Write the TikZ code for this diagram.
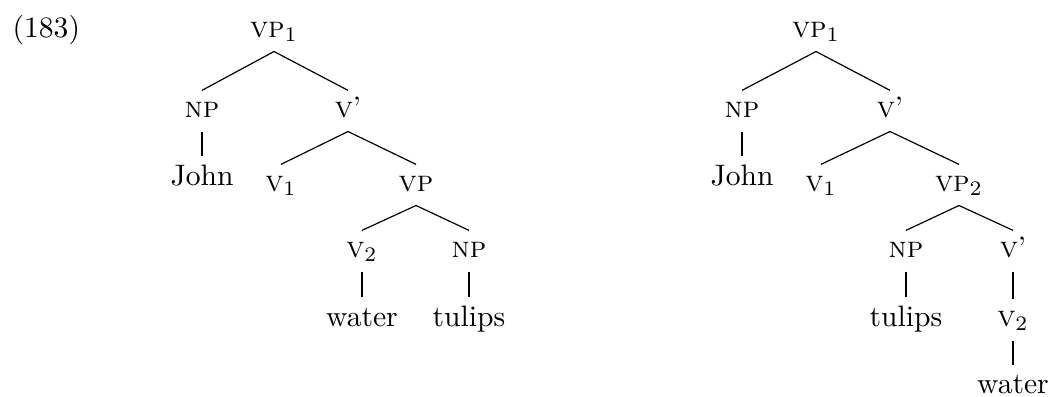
\documentclass[tikz,border=0pt]{standalone}
\tikzset{
  cat/.style={anchor=base, inner sep=0pt, text height=8.8pt, text depth=4.7pt},
  word/.style={anchor=base, inner sep=0pt, text height=9.5pt, text depth=0pt},
  branch/.style={line width=0.4pt},
}
\begin{document}
\begin{tikzpicture}[x=0.3378pt,y=-0.3378pt]
\useasboundingbox (0,0) rectangle (1051,396);
\node[anchor=base west, inner sep=0pt] (ex) at (12,37) {(183)};
% left tree
\node[cat] (a) at (274,37) {\textsc{vp}$_1$};
\node[cat] (anp) at (202,117) {\textsc{np}};
\node[word] (ajohn) at (202,185) {John};
\node[cat] (avb) at (348,117) {\textsc{v}'};
\node[cat] (av1) at (281,191) {\textsc{v}$_1$};
\node[cat] (avp) at (416,191) {\textsc{vp}};
\node[cat] (av2) at (362,257) {\textsc{v}$_2$};
\node[cat] (anp2) at (469,257) {\textsc{np}};
\node[word] (awater) at (362,326) {water};
\node[word] (atulips) at (469,326) {tulips};
\draw[branch] (a.south) -- (anp.north);
\draw[branch] (a.south) -- (avb.north);
\draw[branch] (anp.south) -- (ajohn.north);
\draw[branch] (avb.south) -- (av1.north);
\draw[branch] (avb.south) -- (avp.north);
\draw[branch] (avp.south) -- (av2.north);
\draw[branch] (avp.south) -- (anp2.north);
\draw[branch] (av2.south) -- (awater.north);
\draw[branch] (anp2.south) -- (atulips.north);
% right tree
\node[cat] (b) at (816,37) {\textsc{vp}$_1$};
\node[cat] (bnp) at (742,117) {\textsc{np}};
\node[word] (bjohn) at (742,185) {John};
\node[cat] (bvb) at (890,117) {\textsc{v}'};
\node[cat] (bv1) at (821,191) {\textsc{v}$_1$};
\node[cat] (bvp) at (959,191) {\textsc{vp}$_2$};
\node[cat] (bnp2) at (906,257) {\textsc{np}};
\node[cat] (bvb2) at (1013,257) {\textsc{v}'};
\node[word] (btulips) at (906,326) {tulips};
\node[cat] (bv2) at (1013,326) {\textsc{v}$_2$};
\node[word] (bwater) at (1013,393.5) {water};
\draw[branch] (b.south) -- (bnp.north);
\draw[branch] (b.south) -- (bvb.north);
\draw[branch] (bnp.south) -- (bjohn.north);
\draw[branch] (bvb.south) -- (bv1.north);
\draw[branch] (bvb.south) -- (bvp.north);
\draw[branch] (bvp.south) -- (bnp2.north);
\draw[branch] (bvp.south) -- (bvb2.north);
\draw[branch] (bnp2.south) -- (btulips.north);
\draw[branch] (bvb2.south) -- (bv2.north);
\draw[branch] (bv2.south) -- (bwater.north);
\end{tikzpicture}
\end{document}
